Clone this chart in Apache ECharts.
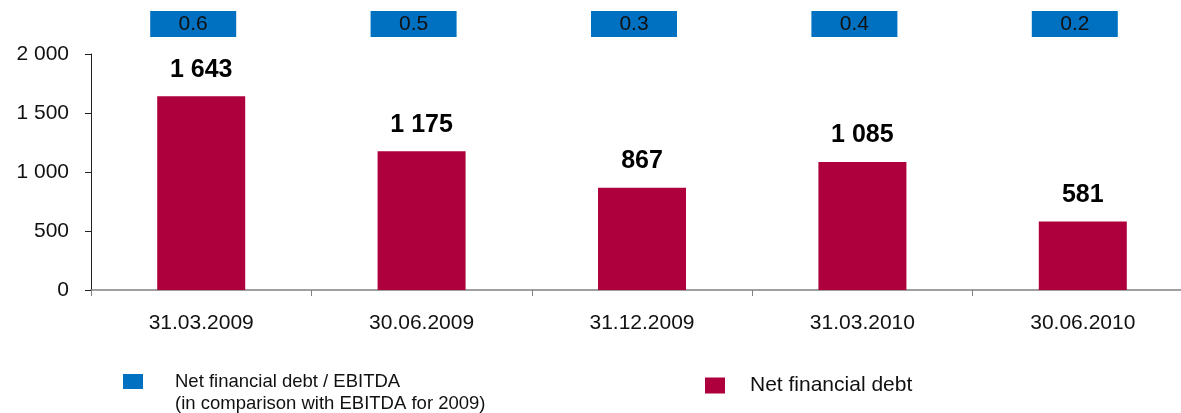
<!DOCTYPE html>
<html>
<head>
<meta charset="utf-8">
<script src="https://cdn.jsdelivr.net/npm/echarts@6/dist/echarts.min.js"></script>
<style>
html,body{margin:0;padding:0;background:#fff;overflow:hidden;}
#chart{width:1200px;height:413px;}
</style>
</head>
<body>
<div id="chart"></div>
<script>
const categories = ['31.03.2009', '30.06.2009', '31.12.2009', '31.03.2010', '30.06.2010'];
const debtValues = [1643, 1175, 867, 1085, 581];
const ratioValues = [0.6, 0.5, 0.3, 0.4, 0.2];
const yTicks = [0, 500, 1000, 1500, 2000];
const debtName = 'Net financial debt';
const ratioName = 'Net financial debt / EBITDA';
const ratioNote = '(in comparison with EBITDA for 2009)';

const FONT = "'Liberation Sans', Arial, sans-serif";
const BAR = '#AD003D';
const BLUE = '#0070C0';
const fmt = v => String(v).replace(/\B(?=(\d{3})+(?!\d))/g, ' ');

const chart = echarts.init(document.getElementById('chart'));
chart.setOption({
  animation: false,
  backgroundColor: '#fff',
  textStyle: { fontFamily: FONT },
  grid: { left: 91, top: 54, width: 1102, height: 236, containLabel: false },
  xAxis: {
    type: 'category',
    data: categories,
    boundaryGap: true,
    axisLine: { lineStyle: { color: '#808080', width: 1.5 } },
    axisTick: { show: true, length: 6, lineStyle: { color: '#808080' } },
    axisLabel: { fontSize: 21, color: '#111', margin: 23, fontFamily: FONT }
  },
  yAxis: {
    type: 'value',
    min: yTicks[0],
    max: yTicks[yTicks.length - 1],
    interval: yTicks[1] - yTicks[0],
    splitLine: { show: false },
    axisLine: { show: true, lineStyle: { color: '#222' } },
    axisTick: { show: true, length: 6, lineStyle: { color: '#222' } },
    axisLabel: { fontSize: 21, color: '#111', margin: 22, fontFamily: FONT, formatter: v => fmt(v) }
  },
  legend: [
    {
      left: 123, top: 372, padding: 0,
      itemWidth: 20, itemHeight: 15,
      data: [{ name: ratioName, icon: 'rect' }],
      textStyle: { fontSize: 18.5, color: '#111', padding: [0, 0, 0, 27], fontFamily: FONT }
    },
    {
      left: 705, top: 375, padding: 0,
      itemWidth: 20, itemHeight: 16,
      data: [{ name: debtName, icon: 'rect' }],
      textStyle: { fontSize: 21, color: '#111', padding: [0, 0, 0, 20], fontFamily: FONT }
    }
  ],
  graphic: [
    { type: 'text', left: 175, top: 394, style: { text: ratioNote, fontSize: 18.5, fill: '#111', fontFamily: FONT } }
  ],
  series: [
    {
      name: debtName,
      type: 'bar',
      data: debtValues,
      barWidth: 88,
      itemStyle: { color: BAR },
      label: {
        show: true, position: 'top', distance: 14,
        fontSize: 25, fontWeight: 'bold', color: '#000', fontFamily: FONT,
        formatter: p => fmt(p.value)
      }
    },
    {
      name: ratioName,
      type: 'custom',
      itemStyle: { color: BLUE },
      data: ratioValues.map((v, i) => [i, v]),
      renderItem: (params, api) => {
        const x = api.coord([api.value(0), 0])[0] - 8;
        return {
          type: 'group',
          children: [
            { type: 'rect', shape: { x: x - 43, y: 11, width: 86, height: 26 }, style: { fill: BLUE } },
            { type: 'text', x: x, y: 24, style: { text: api.value(1).toFixed(1), fontSize: 21, fill: '#111', align: 'center', verticalAlign: 'middle', fontFamily: FONT } }
          ]
        };
      }
    }
  ]
});
</script>
</body>
</html>
